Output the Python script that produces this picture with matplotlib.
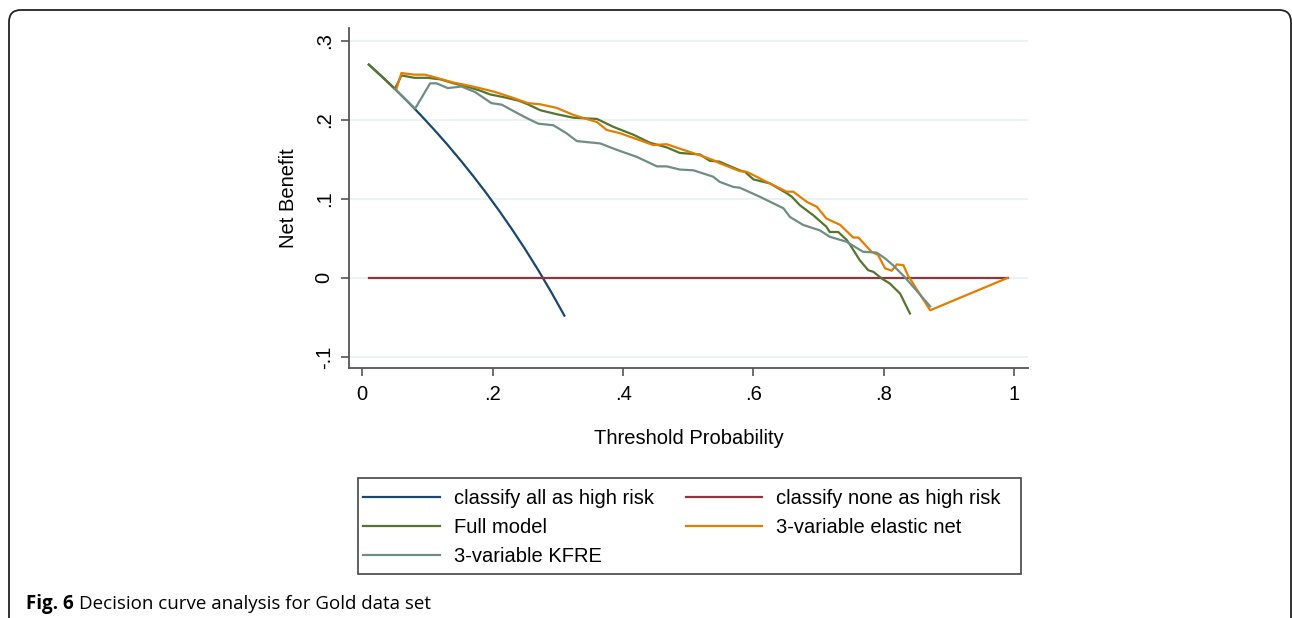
#Decision curve analysis, Gold data set (Fig. 6)
import matplotlib
matplotlib.use("Agg")
import matplotlib.pyplot as plt
from matplotlib.patches import FancyBboxPatch, Rectangle
from matplotlib.transforms import IdentityTransform

# treat all / treat none
all_x = [0.01, 0.03, 0.05, 0.07, 0.09, 0.11, 0.13, 0.15, 0.17, 0.19, 0.21, 0.23, 0.25, 0.27, 0.29, 0.31]
all_y = [0.2697, 0.2546, 0.2390, 0.2226, 0.2055, 0.1876, 0.1690, 0.1494, 0.1289, 0.1074, 0.0848,
         0.0610, 0.0360, 0.0096, -0.0183, -0.0478]
none_x = [0.01, 0.99]
none_y = [0.0, 0.0]

# full model
full_x = [0.01, 0.03, 0.05, 0.06, 0.08, 0.10, 0.12, 0.14, 0.16, 0.18, 0.196, 0.22, 0.24, 0.254, 0.273,
          0.298, 0.324, 0.36, 0.385, 0.416, 0.441, 0.467, 0.487, 0.518, 0.533, 0.548, 0.559, 0.579,
          0.587, 0.60, 0.625, 0.651, 0.659, 0.671, 0.692, 0.712, 0.717, 0.730, 0.743, 0.748, 0.763,
          0.776, 0.784, 0.797, 0.809, 0.825, 0.840]
full_y = [0.2697, 0.2546, 0.2390, 0.256, 0.253, 0.253, 0.251, 0.246, 0.242, 0.237, 0.232, 0.228, 0.224,
          0.2195, 0.212, 0.207, 0.2025, 0.201, 0.191, 0.181, 0.171, 0.165, 0.158, 0.156, 0.148, 0.147,
          0.143, 0.136, 0.134, 0.1245, 0.1195, 0.107, 0.1025, 0.092, 0.079, 0.0645, 0.058, 0.058,
          0.048, 0.042, 0.0224, 0.0097, 0.0076, -0.001, -0.007, -0.020, -0.045]

# 3-variable elastic net
enet_x = [0.052, 0.06, 0.08, 0.096, 0.11, 0.127, 0.14, 0.158, 0.18, 0.204, 0.23, 0.254, 0.273, 0.298,
          0.324, 0.34, 0.36, 0.375, 0.395, 0.426, 0.446, 0.467, 0.492, 0.518, 0.538, 0.548, 0.579,
          0.59, 0.62, 0.651, 0.661, 0.682, 0.697, 0.712, 0.733, 0.753, 0.761, 0.781, 0.791, 0.802,
          0.812, 0.82, 0.83, 0.837, 0.871, 0.99]
enet_y = [0.238, 0.259, 0.257, 0.257, 0.254, 0.250, 0.247, 0.244, 0.240, 0.235, 0.228, 0.221, 0.2195,
          0.215, 0.206, 0.202, 0.197, 0.187, 0.183, 0.174, 0.168, 0.169, 0.162, 0.155, 0.149, 0.145,
          0.135, 0.134, 0.1215, 0.109, 0.109, 0.096, 0.090, 0.075, 0.067, 0.051, 0.051, 0.033, 0.029,
          0.012, 0.009, 0.017, 0.016, 0.003, -0.041, 0.0]

# 3-variable KFRE
kfre_x = [0.05, 0.07, 0.081, 0.104, 0.114, 0.131, 0.152, 0.173, 0.198, 0.214, 0.234, 0.25, 0.27, 0.293,
          0.313, 0.329, 0.365, 0.39, 0.421, 0.452, 0.467, 0.487, 0.508, 0.538, 0.548, 0.569, 0.579,
          0.61, 0.636, 0.646, 0.656, 0.676, 0.702, 0.717, 0.743, 0.768, 0.789, 0.802, 0.814, 0.832,
          0.85, 0.871]
kfre_y = [0.2390, 0.2226, 0.214, 0.246, 0.246, 0.240, 0.242, 0.235, 0.221, 0.219, 0.210, 0.203, 0.195,
          0.193, 0.183, 0.173, 0.170, 0.162, 0.153, 0.141, 0.141, 0.137, 0.136, 0.128, 0.1215, 0.115,
          0.114, 0.1025, 0.092, 0.088, 0.077, 0.067, 0.060, 0.052, 0.0456, 0.033, 0.032, 0.0245,
          0.016, 0.001, -0.016, -0.036]

x_ticks = [0, 0.2, 0.4, 0.6, 0.8, 1]
x_labels = ["0", ".2", ".4", ".6", ".8", "1"]
y_ticks = [-0.1, 0, 0.1, 0.2, 0.3]
y_labels = ["-.1", "0", ".1", ".2", ".3"]

plt.rcParams["font.family"] = ["Liberation Sans", "DejaVu Sans"]
fs = 14.5

fig = plt.figure(figsize=(12.92, 6.18), dpi=100)
ax = fig.add_axes([349 / 1292, 1 - 368 / 618, 679 / 1292, 340 / 618])

lw = 1.6
h_all, = ax.plot(all_x, all_y, color="#1a476f", lw=lw, label="classify all as high risk", zorder=3)
h_none, = ax.plot(none_x, none_y, color="#90353b", lw=lw, label="classify none as high risk", zorder=3)
h_full, = ax.plot(full_x, full_y, color="#55752f", lw=lw, label="Full model", zorder=4)
h_enet, = ax.plot(enet_x, enet_y, color="#e37e00", lw=lw, label="3-variable elastic net", zorder=5)
h_kfre, = ax.plot(kfre_x, kfre_y, color="#6e8e84", lw=lw, label="3-variable KFRE", zorder=6)

ax.set_xlim(-0.0204, 1.0211)
ax.set_ylim(-0.114, 0.316)
ax.set_xticks(x_ticks)
ax.set_xticklabels(x_labels)
ax.set_yticks(y_ticks)
ax.set_yticklabels(y_labels, rotation=90, va="center")
ax.grid(axis="y", color="#eaf2f3", lw=1.4, zorder=0)
ax.set_axisbelow(True)
for s in ["top", "right"]:
    ax.spines[s].set_visible(False)
for s in ["left", "bottom"]:
    ax.spines[s].set_color("#555555")
    ax.spines[s].set_linewidth(1.3)
ax.tick_params(length=6, width=1.2, color="#555555", labelsize=fs, pad=6)
ax.tick_params(axis="y", pad=5)
ax.set_xlabel("Threshold Probability", fontsize=fs, labelpad=18)
ax.set_ylabel("Net Benefit", fontsize=fs, labelpad=12)

order = [h_all, h_full, h_kfre, h_none, h_enet]
fig.legend(order, [h.get_label() for h in order],
           ncol=2, loc="upper left", bbox_to_anchor=(363 / 1292, 1 - 489 / 618),
           borderaxespad=0, borderpad=0, frameon=False, fontsize=fs,
           handlelength=3.8, handletextpad=0.7, labelspacing=0.5, columnspacing=1.6)
fig.patches.append(Rectangle((358, 618 - 574), 663, 96, transform=IdentityTransform(),
                             fill=False, edgecolor="#444444", lw=1.2))

# page frame with rounded corners
frame = FancyBboxPatch((9, -30), 1282, 608 + 30, boxstyle="round,pad=0,rounding_size=12",
                       transform=IdentityTransform(), fill=False, edgecolor="#222222", lw=1.3)
fig.patches.append(frame)

cap1 = fig.text(26, 14, "Fig. 6", transform=IdentityTransform(), fontsize=13.5,
                fontweight="bold", family="Open Sans", va="center")
fig.canvas.draw()
bb = cap1.get_window_extent()
fig.text(bb.x1 + 5, 14, "Decision curve analysis for Gold data set", transform=IdentityTransform(),
         fontsize=13.5, family="Open Sans", va="center")

fig.savefig("out.png", dpi=100)
